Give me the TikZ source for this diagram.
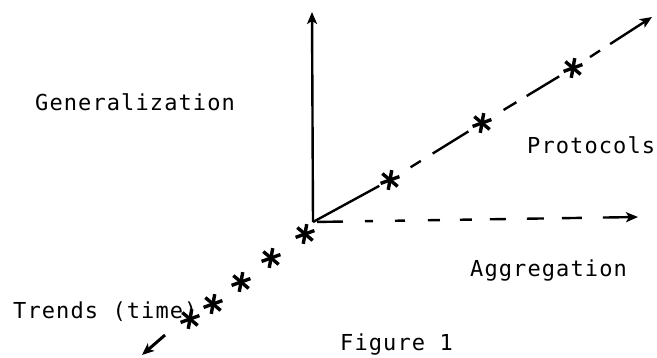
\documentclass[tikz,border=0pt]{standalone}
\usepackage{fontspec}
\newfontfamily\twfont[LetterSpace=5]{DejaVu Sans Mono}
\usetikzlibrary{arrows.meta}
\begin{document}
\begin{tikzpicture}[x=1pt,y=-1pt,
  axis/.style={line width=2.4pt, line cap=butt},
  tip/.style={-{Stealth[length=12pt,width=10pt,inset=3pt]}},
  lbl/.style={font=\twfont\fontsize{22pt}{26pt}\selectfont, anchor=base west, inner sep=0pt},
  astk/.style={circle, minimum size=24pt, inner sep=0pt,
    path picture={\foreach \a in {20,80,140}
      \draw[line width=3.4pt] (path picture bounding box.center) ++(\a:10pt) -- ++(\a+180:20pt);}}]
\useasboundingbox (0,0) rectangle (657,357);
\clip (0,0) rectangle (657,357);

% origin and axis ends
\coordinate (O) at (313,222);
\coordinate (gen) at (312,12);
\coordinate (agg) at (638,217);
\coordinate (pro) at (652,17);

% protocol stars
\node[astk] (p1) at (390,180) {};
\node[astk] (p2) at (482,123) {};
\node[astk] (p3) at (573,68) {};

% trend stars
\node[astk] (t1) at (305,234) {};
\node[astk] (t2) at (271,258) {};
\node[astk] (t3) at (241,282) {};
\node[astk] (t4) at (213,304) {};
\node[astk] (t5) at (190,319) {};
\coordinate (ta) at (165,335);
\coordinate (tb) at (142,355);

% Generalization axis
\draw[axis,tip] (O) -- (gen);

% Aggregation axis
\draw[axis,tip,dash pattern=on 0pt off 4pt on 26pt off 22pt on 8pt off 22pt on 10pt off 23pt on 12pt off 20pt on 12pt off 18pt on 16pt off 21pt on 17pt off 18pt on 20pt off 21pt on 80pt off 10pt] (O) -- (agg);

% Protocols axis
\draw[axis] (O) -- (p1);
\draw[axis,dash pattern=on 0pt off 12pt on 12pt off 14pt on 42pt off 60pt] (p1) -- (p2);
\draw[axis,dash pattern=on 0pt off 13pt on 15pt off 12pt on 38pt off 60pt] (p2) -- (p3);
\draw[axis,tip,dash pattern=on 0pt off 8pt on 12pt off 12pt on 100pt off 10pt] (p3) -- (pro);

% Trends arrow
\draw[axis,line width=3pt,tip] (ta) -- (tb);

% labels
\node[lbl] (lgen) at (35,110) {Generalization};
\node[lbl] (lpro) at (527,153) {Protocols};
\node[lbl] (lagg) at (470,276) {Aggregation};
\node[lbl] (ltre) at (13,318) {Trends (time)};
\node[lbl] (lfig) at (340,350) {Figure 1};
\end{tikzpicture}
\end{document}
